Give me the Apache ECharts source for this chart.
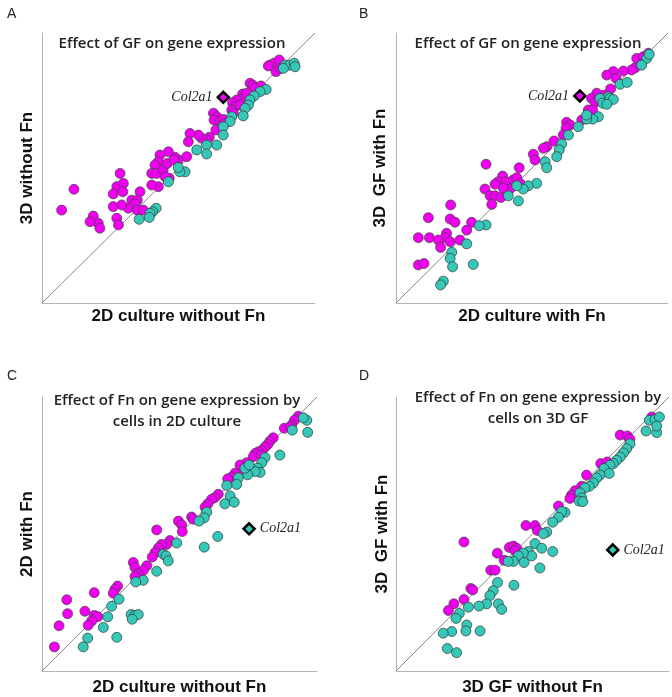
<!DOCTYPE html>
<html>
<head>
<meta charset="utf-8">
<script src="https://cdn.jsdelivr.net/npm/echarts@6/dist/echarts.min.js"></script>
<style>html,body{margin:0;padding:0;background:#fff;}#c{width:672px;height:697px;}</style>
</head>
<body>
<div id="c"></div>
<script>
// ---------- DATA ----------
const panelLetters = ['A', 'B', 'C', 'D'];
const panelTitles = [
  'Effect of GF on gene expression',
  'Effect of GF on gene expression',
  'Effect of Fn on gene expression by\ncells in 2D culture',
  'Effect of Fn on gene expression by\ncells on 3D GF'
];
const xNames = ['2D culture without Fn', '2D culture with Fn', '2D culture without Fn', '3D GF without Fn'];
const yNames = ['3D without Fn', '3D  GF with Fn', '2D with Fn', '3D  GF with Fn'];
const geneLabel = 'Col2a1';
const diagonal = [[0, 0], [100, 100]];

const aMagenta = [
  [83.5,88.1],[85.0,88.8],[86.9,90.0],[85.7,85.7],[87.4,86.9],[82.9,87.8],
  [76.2,81.4],[77.2,80.7],[80.2,80.4],[78.0,79.5],[73.5,77.4],[73.1,75.4],[71.3,75.2],[69.8,74.2],
  [70.7,72.7],[69.5,71.5],[70.1,70.3],[72.5,73.3],[75.0,77.7],
  [62.8,70.3],[64.0,69.0],[63.0,67.8],[65.2,67.2],[66.4,68.0],[67.0,66.5],[63.7,64.1],
  [61.3,61.4],[60.3,60.4],[58.5,61.0],[57.3,62.2],[54.2,62.8],[53.6,59.7],[53.0,54.2],
  [49.9,53.0],[48.7,54.0],[46.3,56.0],[43.2,54.8],[42.6,52.3],[41.4,51.1],[40.2,48.0],[42.0,48.0],
  [44.4,49.3],[45.9,51.7],[48.4,53.0],[46.6,46.2],[45.1,46.8],[42.6,43.1],[40.2,43.7],
  [28.6,48.0],[27.4,43.1],[29.8,44.3],[26.1,40.4],[29.6,41.2],[32.9,38.1],[35.9,41.2],[34.9,38.1],
  [34.1,36.7],[31.6,35.1],[29.2,36.3],[26.1,35.7],[34.9,34.4],[37.1,34.4],[27.4,31.4],[28.0,28.9],
  [20.6,29.5],[21.2,27.7],[18.8,32.2],[17.6,30.1],[11.7,42.1],[7.2,34.4]
];
const aCyan = [
  [89.0,88.1],[90.6,88.1],[92.4,88.8],[92.7,87.5],[88.4,86.9],[82.1,79.1],[79.9,78.3],[77.7,76.7],
  [76.2,75.2],[75.6,73.3],[74.4,72.1],[73.7,69.3],[69.5,69.0],[68.9,67.2],[66.4,65.3],[66.4,62.2],
  [64.0,58.5],[60.3,58.5],[56.7,56.7],[60.3,55.2],[52.4,48.6],[50.5,48.6],[49.9,50.2],[46.3,44.9],
  [41.8,35.1],[40.5,33.8],[39.6,33.2],[39.3,31.7],[35.6,31.0]
];
const aGene = [[66.4, 76.2]];

const bMagenta = [
  [88.5,90.6],[90.9,91.2],[92.8,92.5],[87.9,87.1],[86.6,86.3],[83.6,85.9],[79.9,85.7],[77.5,84.4],
  [80.9,83.2],[78.9,79.3],[76.5,77.0],[73.8,77.7],[71.9,75.8],[73.2,74.3],[70.7,71.5],[72.3,71.5],
  [68.3,67.8],[62.7,66.9],[64.0,65.9],[62.5,64.7],[61.5,62.2],[58.1,60.0],[55.4,57.9],[54.2,57.3],
  [50.5,55.1],[51.1,53.0],[45.3,50.1],[33.1,51.4],[39.2,47.0],[37.6,44.9],[36.4,44.0],[40.4,44.9],
  [43.1,45.6],[44.4,46.4],[45.6,44.3],[41.9,42.2],[39.5,42.5],[32.7,42.2],[34.6,39.7],[36.4,39.7],
  [38.6,39.1],[35.2,36.5],[20.1,36.3],[11.9,31.6],[19.9,31.1],[21.7,29.9],[27.8,29.9],[26.0,27.0],
  [18.6,25.8],[18.0,24.2],[8.2,24.2],[12.3,24.2],[15.6,23.3],[19.9,22.7],[23.5,23.3],[16.4,20.6],
  [8.2,14.1],[10.3,14.6]
];
const bCyan = [
  [92.2,90.6],[93.1,92.1],[90.3,88.1],[82.4,81.0],[85.0,81.7],[78.1,76.4],[75.0,75.8],[76.0,74.0],
  [78.7,75.8],[79.9,75.4],[77.5,73.6],[74.4,69.0],[72.3,68.1],[70.1,68.1],[70.1,69.6],[67.0,65.3],
  [63.4,62.2],[60.9,58.9],[60.0,56.7],[59.1,54.2],[54.8,52.3],[55.4,50.1],[51.7,44.3],[48.6,43.4],
  [46.8,42.2],[44.4,43.4],[41.3,39.7],[45.0,37.8],[33.1,28.9],[30.6,28.6],[26.0,21.9],[20.5,18.8],
  [19.9,16.5],[20.8,13.4],[28.4,14.3],[17.4,8.1],[16.4,6.7]
];
const bGene = [[67.6, 76.7]];

const cMagenta = [
  [93.2,93.0],[91.8,91.5],[90.8,89.8],[88.1,88.6],[90.2,89.1],[84.1,85.1],[82.9,83.9],[82.1,82.7],
  [81.1,81.7],[79.9,80.5],[78.7,80.0],[77.5,79.4],[76.8,78.2],[79.6,78.8],[74.4,76.0],[72.6,74.6],
  [73.2,73.4],[72.0,75.2],[70.2,72.2],[69.0,70.8],[67.5,70.1],[64.1,64.5],[62.9,63.3],[61.7,62.7],
  [60.3,61.0],[59.3,59.8],[54.4,56.2],[55.0,55.4],[49.6,54.7],[50.8,53.3],[51.0,50.9],[41.7,51.5],
  [46.5,47.6],[45.3,46.2],[43.5,46.2],[42.3,44.9],[41.1,43.2],[40.1,41.6],[33.2,39.6],[33.8,37.8],
  [38.1,38.4],[36.8,36.7],[34.8,35.5],[33.8,34.5],[27.5,31.0],[26.5,29.8],[25.9,28.4],[19.0,28.6],
  [9.0,26.0],[9.3,20.9],[15.6,21.8],[19.0,20.3],[20.3,19.8],[18.1,18.3],[16.8,16.7],[6.2,16.5],
  [4.5,8.8]
];
const cCyan = [
  [96.3,91.5],[95.0,92.4],[91.0,87.9],[96.6,87.1],[86.5,78.8],[81.1,77.9],[79.9,76.0],[78.4,74.0],
  [79.3,72.5],[77.5,72.8],[74.8,71.6],[73.8,74.0],[75.3,75.2],[71.4,70.5],[70.8,68.1],[67.2,67.7],
  [68.4,63.9],[66.5,61.0],[69.9,61.6],[59.9,58.0],[59.0,55.9],[57.1,54.7],[63.9,49.1],[59.0,45.2],
  [49.0,46.7],[44.1,42.6],[45.1,42.0],[45.9,40.2],[41.7,36.4],[36.8,33.1],[34.1,32.5],[28.0,26.2],
  [25.3,23.6],[23.9,19.8],[22.3,15.9],[32.4,20.6],[33.8,20.3],[35.0,20.6],[32.8,18.9],[27.2,12.3],
  [16.6,12.0],[15.0,8.8]
];
const cGene = [[75.3, 51.9]];

const dMagenta = [
  [93.7,92.7],[82.1,86.1],[84.7,85.8],[85.7,84.6],[75.0,75.7],[77.4,76.3],[69.8,71.5],[68.0,67.4],
  [65.6,65.8],[64.3,64.2],[63.7,63.0],[59.5,60.2],[47.6,53.1],[50.9,53.1],[51.8,51.3],[24.9,47.1],
  [41.5,45.1],[43.0,45.6],[44.2,44.8],[43.6,43.9],[37.1,43.0],[39.6,40.4],[34.7,36.8],[36.3,36.8],
  [27.4,30.1],[28.1,29.6],[24.9,26.1],[21.2,24.5],[19.2,22.1]
];
const dCyan = [
  [92.8,91.5],[94.9,91.8],[96.5,92.7],[91.6,87.6],[95.5,87.0],[95.5,89.4],[85.7,82.9],[84.5,81.1],
  [83.3,79.6],[82.1,78.1],[80.8,76.9],[79.6,75.7],[78.4,75.1],[76.2,73.9],[78.1,72.1],[74.7,71.5],
  [73.5,70.4],[72.3,68.6],[70.8,67.4],[69.2,66.8],[67.4,65.0],[68.0,63.2],[67.1,62.0],[68.4,61.8],
  [61.9,57.9],[60.7,58.2],[59.5,56.1],[57.4,54.3],[55.2,50.7],[54.0,50.1],[50.9,46.5],[53.4,44.8],
  [57.4,43.6],[48.5,43.6],[49.7,42.0],[46.6,43.0],[44.8,42.0],[43.0,40.0],[41.1,40.0],[46.9,39.6],
  [52.7,37.6],[37.2,32.3],[35.6,29.3],[34.4,27.5],[43.2,31.3],[33.2,24.5],[30.4,23.7],[37.5,24.5],
  [38.7,22.5],[26.5,23.3],[23.2,21.0],[22.0,19.2],[25.9,16.8],[25.6,14.6],[30.8,14.6],[20.4,14.4],
  [17.3,13.8],[18.8,8.2],[22.2,6.7]
];
const dGene = [[79.4, 44.2]];

const magentaSets = [aMagenta, bMagenta, cMagenta, dMagenta];
const cyanSets = [aCyan, bCyan, cCyan, dCyan];
const geneSets = [aGene, bGene, cGene, dGene];

// ---------- LAYOUT / STYLE ----------
const grids = [
  {left: 42, top: 33, width: 273, height: 270},
  {left: 396, top: 33, width: 272, height: 270},
  {left: 42, top: 397, width: 275, height: 281},
  {left: 396, top: 397, width: 273, height: 280}
];
const xNameGap = [5, 5, 8, 8];
const yNameGap = [6, 7, 6, 5];
const geneFill = ['#f000f0', '#f000f0', '#35c8b8', '#35c8b8'];
const geneLabelPos = ['left', 'left', 'right', 'right'];
const titlePos = [
  {x: 167, y: 28}, {x: 523, y: 28}, {x: 172, y: 385}, {x: 533, y: 382}
];
const letterPos = [{x: 2, y: 2}, {x: 354, y: 2}, {x: 2, y: 364}, {x: 354, y: 364}];
const MAG = '#f000f0', CYA = '#35c8b8';
const sans = "'Liberation Sans', Arial, sans-serif";

const xAxes = [], yAxes = [], series = [], titles = [];
grids.forEach((g, i) => {
  const axLine = {show: true, lineStyle: {color: '#b4b4b4', width: 1}};
  xAxes.push({
    type: 'value', gridIndex: i, min: 0, max: 100,
    axisLine: axLine, axisTick: {show: false}, axisLabel: {show: false}, splitLine: {show: false},
    name: xNames[i], nameLocation: 'middle', nameGap: xNameGap[i],
    nameTextStyle: {fontFamily: sans, fontWeight: 'bold', fontSize: 17, color: '#111', verticalAlign: 'top'}
  });
  yAxes.push({
    type: 'value', gridIndex: i, min: 0, max: 100,
    axisLine: axLine, axisTick: {show: false}, axisLabel: {show: false}, splitLine: {show: false},
    name: yNames[i], nameLocation: 'middle', nameGap: yNameGap[i],
    nameTextStyle: {fontFamily: sans, fontWeight: 'bold', fontSize: 17, color: '#111'}
  });
  series.push({
    type: 'line', xAxisIndex: i, yAxisIndex: i, data: diagonal, symbol: 'none', silent: true,
    lineStyle: {color: '#888', width: 1}, z: 1
  });
  series.push({
    type: 'scatter', xAxisIndex: i, yAxisIndex: i, data: magentaSets[i], symbolSize: 10,
    itemStyle: {color: MAG, borderColor: '#444', borderWidth: 0.7, opacity: 1}, z: 2
  });
  series.push({
    type: 'scatter', xAxisIndex: i, yAxisIndex: i, data: cyanSets[i], symbolSize: 10,
    itemStyle: {color: CYA, borderColor: '#333', borderWidth: 0.7, opacity: 1}, z: 3
  });
  series.push({
    type: 'scatter', xAxisIndex: i, yAxisIndex: i, data: geneSets[i], symbol: 'diamond', symbolSize: 11,
    itemStyle: {color: geneFill[i], borderColor: '#000', borderWidth: 2.5, opacity: 1}, z: 5,
    label: {show: true, formatter: geneLabel, position: geneLabelPos[i], distance: 4,
      fontFamily: "'Liberation Serif', 'Times New Roman', serif", fontStyle: 'italic', fontSize: 14, color: '#222'}
  });
  titles.push({
    text: panelTitles[i], left: titlePos[i].x, top: titlePos[i].y, textAlign: 'center',
    textStyle: {fontFamily: "'Open Sans', sans-serif", fontSize: 15, fontWeight: 600, color: '#222', lineHeight: 21}
  });
  titles.push({
    text: panelLetters[i], left: letterPos[i].x, top: letterPos[i].y,
    textStyle: {fontFamily: sans, fontSize: 14, fontWeight: 'normal', color: '#222'}
  });
});

const chart = echarts.init(document.getElementById('c'), null, {renderer: 'canvas'});
chart.setOption({
  animation: false,
  backgroundColor: '#fff',
  title: titles,
  grid: grids,
  xAxis: xAxes,
  yAxis: yAxes,
  series: series
});
</script>
</body>
</html>
